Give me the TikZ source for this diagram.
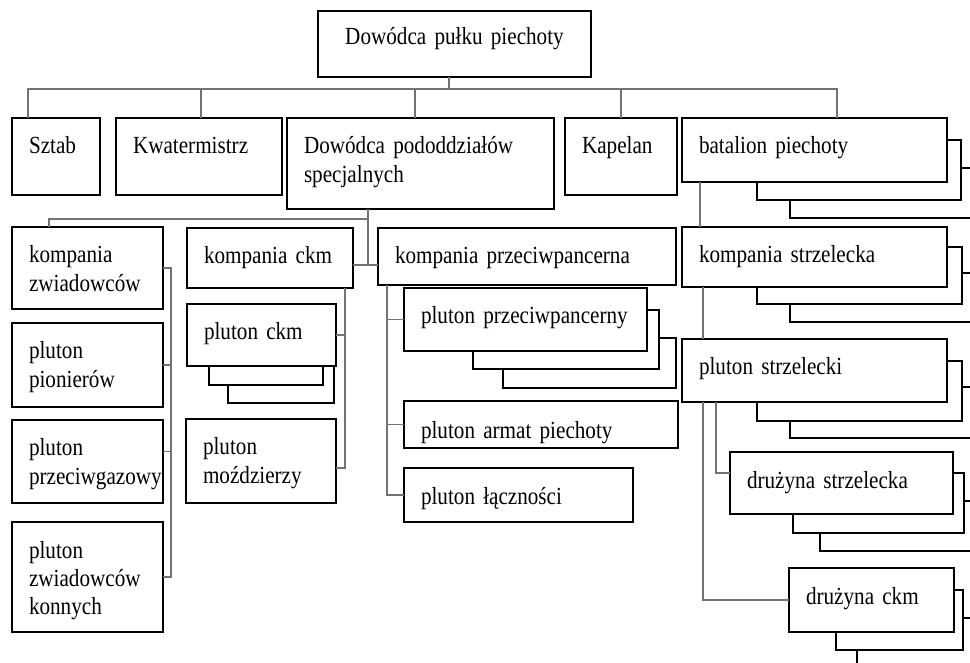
\documentclass[tikz,border=0pt]{standalone}
\usepackage{fontspec}
\setmainfont{Liberation Serif}[FakeStretch=0.86]
\hyphenpenalty=10000
\begin{document}
\begin{tikzpicture}
\tikzset{kasten/.style={draw,line width=1.1pt,fill=white,anchor=north west,inner xsep=0.34cm,inner ysep=0pt,outer sep=0pt,align=left,text height=0.72cm,font=\fontsize{14}{16}\selectfont}}
\tikzset{hinten/.style={draw,line width=1.1pt,fill=white,anchor=north west,inner sep=0pt,outer sep=0pt}}
\tikzset{linie/.style={draw=black!55,line width=0.7pt}}
\useasboundingbox (0,0) rectangle (19.4,-13.26);
\clip (0,0) rectangle (19.4,-13.26);
% Dowodca i sztab
\node[kasten,align=center,text width=4.78cm,text height=0.68cm,text depth=0.64cm] (pulk) at (6.36,-0.22) {Dowódca pułku piechoty};
\node[kasten,text width=1.08cm,text depth=0.82cm] (sztab) at (0.24,-2.36) {Sztab};
\node[kasten,text width=2.64cm,text depth=0.82cm] (kwater) at (2.32,-2.36) {Kwatermistrz};
\node[kasten,text width=4.66cm,text depth=1.10cm] (dps) at (5.74,-2.36) {Dowódca pododdziałów\\specjalnych};
\node[kasten,text width=1.56cm,text depth=0.82cm] (kapelan) at (11.30,-2.36) {Kapelan};
\node[hinten,minimum width=4.20cm,minimum height=1.00cm] (batalion3) at (15.80,-3.36) {};
\node[hinten,minimum width=4.08cm,minimum height=1.20cm] (batalion2) at (15.14,-2.80) {};
\node[kasten,text width=4.62cm,text depth=0.56cm] (batalion) at (13.64,-2.36) {batalion piechoty};
% pododdzialy specjalne
\node[kasten,text width=2.34cm,text depth=0.92cm] (kzw) at (0.24,-4.54) {kompania\\zwiadowców};
\node[kasten,text width=2.34cm,text depth=0.96cm] (ppion) at (0.24,-6.46) {pluton\\pionierów};
\node[kasten,text width=2.34cm,text depth=0.94cm] (pgaz) at (0.24,-8.40) {pluton\\przeciwgazowy};
\node[kasten,text width=2.34cm,text depth=1.48cm] (pzk) at (0.24,-10.44) {pluton\\zwiadowców\\konnych};
\node[kasten,text width=2.64cm,text depth=0.48cm] (kckm) at (3.74,-4.56) {kompania ckm};
\node[hinten,minimum width=2.12cm,minimum height=1.16cm] (pckm3) at (4.56,-6.90) {};
\node[hinten,minimum width=2.28cm,minimum height=1.10cm] (pckm2) at (4.18,-6.60) {};
\node[kasten,text width=2.30cm,text depth=0.52cm] (pckm) at (3.74,-6.08) {pluton ckm};
\node[kasten,text width=2.32cm,text depth=0.96cm] (pmoz) at (3.72,-8.38) {pluton\\moździerzy};
\node[kasten,text width=5.28cm,text depth=0.42cm] (kppanc) at (7.56,-4.56) {kompania przeciwpancerna};
\node[hinten,minimum width=3.46cm,minimum height=1.00cm] (pppanc3) at (10.06,-6.76) {};
\node[hinten,minimum width=3.72cm,minimum height=1.18cm] (pppanc2) at (9.46,-6.20) {};
\node[kasten,text width=4.18cm,text depth=0.54cm] (pppanc) at (8.08,-5.76) {pluton przeciwpancerny};
\node[kasten,text width=4.80cm,text height=0.76cm,text depth=0.18cm] (parmat) at (8.08,-8.02) {pluton armat piechoty};
\node[kasten,text width=3.90cm,text depth=0.36cm] (placz) at (8.08,-9.36) {pluton łączności};
% batalion
\node[hinten,minimum width=4.20cm,minimum height=0.98cm] (kstrz3) at (15.80,-5.46) {};
\node[hinten,minimum width=4.10cm,minimum height=1.14cm] (kstrz2) at (15.14,-4.94) {};
\node[kasten,text width=4.62cm,text depth=0.48cm] (kstrz) at (13.64,-4.54) {kompania strzelecka};
\node[hinten,minimum width=4.20cm,minimum height=1.02cm] (pstrz3) at (15.80,-7.74) {};
\node[hinten,minimum width=4.10cm,minimum height=1.20cm] (pstrz2) at (15.14,-7.22) {};
\node[kasten,text width=4.62cm,text depth=0.54cm] (pstrz) at (13.64,-6.78) {pluton strzelecki};
\node[hinten,minimum width=3.60cm,minimum height=1.00cm] (dstrz3) at (16.40,-10.02) {};
\node[hinten,minimum width=3.42cm,minimum height=1.20cm] (dstrz2) at (15.86,-9.46) {};
\node[kasten,text width=3.78cm,text depth=0.52cm] (dstrz) at (14.60,-9.04) {drużyna strzelecka};
\node[hinten,minimum width=2.86cm,minimum height=1.64cm] (dckm3) at (17.14,-12.36) {};
\node[hinten,minimum width=2.54cm,minimum height=1.20cm] (dckm2) at (16.72,-11.80) {};
\node[kasten,text width=2.62cm,text depth=0.56cm] (dckm) at (15.78,-11.36) {drużyna ckm};
% polaczenia
\draw[linie] ([xshift=-0.11cm]pulk.south) -- ++(0,-0.24);
\draw[linie] ([xshift=0.32cm]sztab.north west) -- ++(0,0.58) -| ([xshift=0.45cm]batalion.north);
\draw[linie] ([xshift=0.04cm]kwater.north) -- ++(0,0.58);
\draw[linie] ([xshift=-0.11cm]dps.north) -- ++(0,0.58);
\draw[linie] (kapelan.north) -- ++(0,0.58);
\draw[linie] ([xshift=1.62cm]dps.south west) -- ++(0,-1.12);
\draw[linie] ([xshift=0.74cm]kzw.north west) -- ++(0,0.16) -| ([xshift=1.62cm]dps.south west);
\draw[linie] ([yshift=-0.14cm]kckm.east) -- ([yshift=-0.14cm]kckm.east -| kppanc.west);
\draw[linie] (kzw.east) -- ++(0.16,0) |- (pzk.east);
\draw[linie] (ppion.east) -- ++(0.16,0);
\draw[linie] ([yshift=0.2cm]pgaz.east) -- ++(0.16,0);
\draw[linie] ([xshift=-0.16cm]kckm.south east) |- ([yshift=-0.14cm]pmoz.east);
\draw[linie] (pckm.east) -- ++(0.18,0);
\draw[linie] ([xshift=0.18cm]kppanc.south west) |- (placz.west);
\draw[linie] (pppanc.west) -- ++(-0.34,0);
\draw[linie] (parmat.west) -- ++(-0.34,0);
\draw[linie] ([xshift=0.36cm]batalion.south west) -- ([xshift=0.36cm]batalion.south west |- kstrz.north);
\draw[linie] ([xshift=0.42cm]kstrz.south west) -- ([xshift=0.42cm]kstrz.south west |- pstrz.north);
\draw[linie] ([xshift=0.68cm]pstrz.south west) |- ([yshift=0.2cm]dstrz.west);
\draw[linie] ([xshift=0.42cm]pstrz.south west) |- (dckm.west);
\end{tikzpicture}
\end{document}
